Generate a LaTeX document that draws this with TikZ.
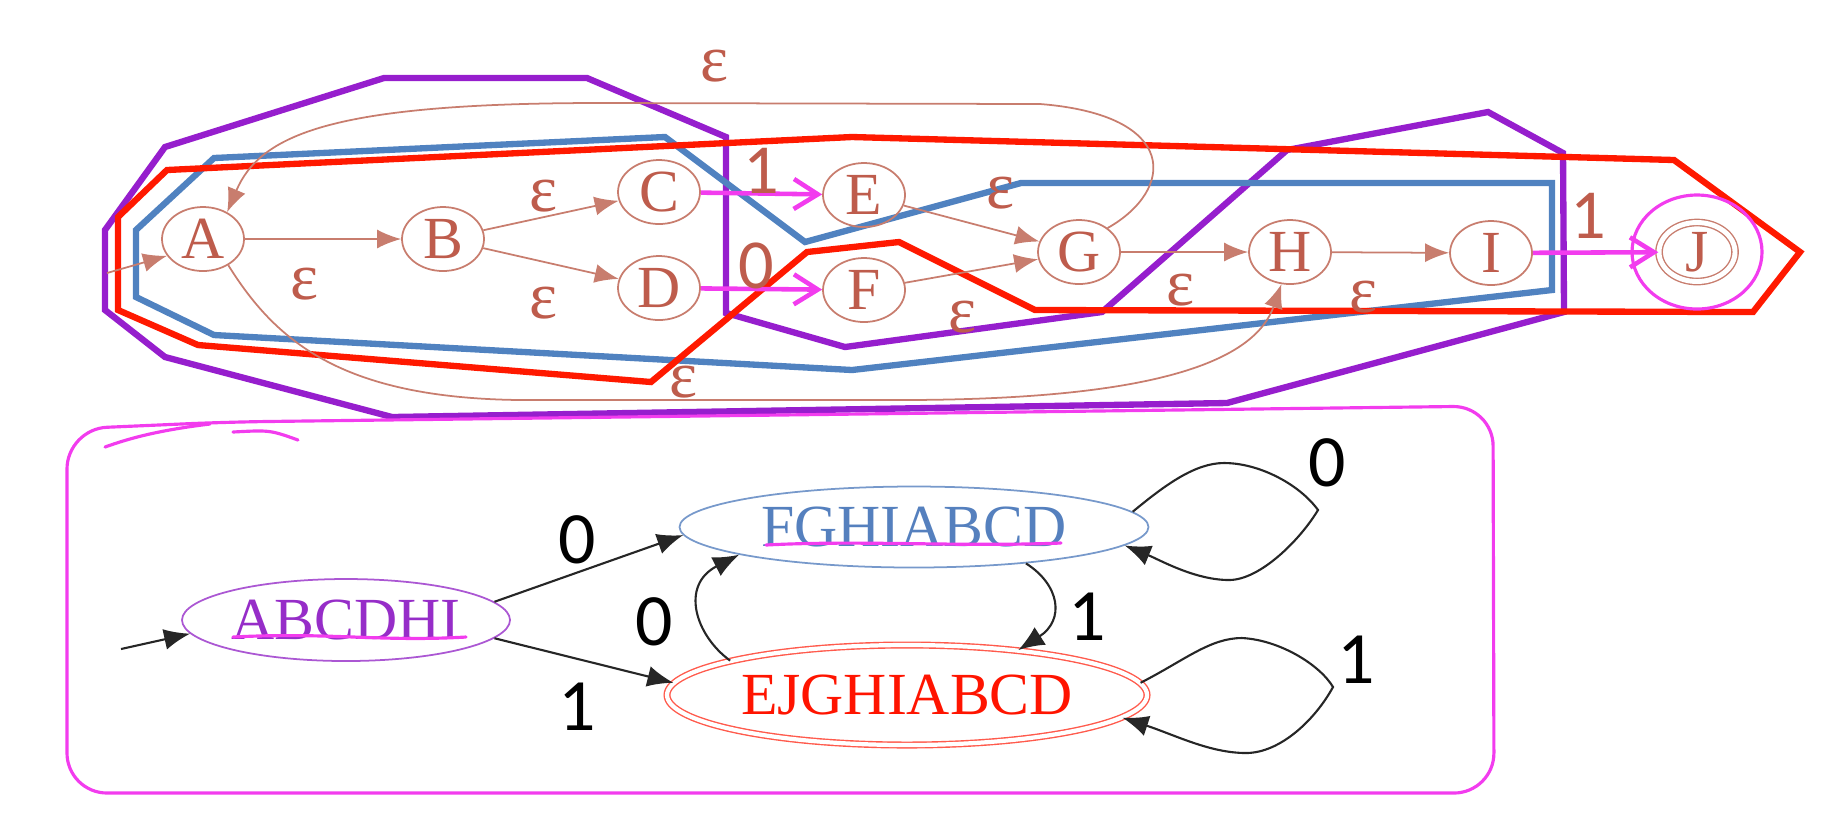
\documentclass[tikz,border=0pt]{standalone}
\usepackage{fontspec}
\setmainfont{Liberation Serif}
\newfontfamily\digitfont{Carlito}
\usetikzlibrary{arrows.meta,shapes.geometric}

\definecolor{nfabrown}{RGB}{190,92,76}
\definecolor{nfaline}{RGB}{200,125,110}
\definecolor{setpurple}{RGB}{150,30,205}
\definecolor{setblue}{RGB}{80,130,192}
\definecolor{setred}{RGB}{255,25,0}
\definecolor{pen}{RGB}{242,60,238}
\definecolor{dfapurple}{RGB}{150,45,200}
\definecolor{dfablue}{RGB}{85,128,190}
\definecolor{dfared}{RGB}{255,20,0}

\begin{document}
\begin{tikzpicture}[every node/.style={font=\fontsize{17}{20}\selectfont},
  nst/.style={ellipse, draw=nfaline, line width=0.5pt, text=nfabrown, minimum width=8.2mm, minimum height=6.4mm, inner sep=0pt},
  nacc/.style={nst, double, double distance=1.4pt, line width=0.4pt, minimum width=7.6mm, minimum height=5.9mm},
  nedge/.style={draw=nfaline, line width=0.5pt, -{Latex[length=2.4mm,width=1.9mm]}},
  eps/.style={text=nfabrown, font=\fontsize{19}{20}\selectfont},
  sym/.style={text=nfabrown, font=\digitfont\fontsize{20}{20}\selectfont},
  penline/.style={draw=pen, line width=0.9pt, line cap=round},
  penarrow/.style={draw=pen, line width=1.3pt, -{Straight Barb[length=2.4mm,width=3mm]}},
  zone/.style={line width=1.8pt},
  dst/.style={ellipse, line width=0.5pt, inner sep=0pt},
  dedge/.style={draw=black!85, line width=0.6pt, -{Latex[length=2.6mm,width=2.1mm]}},
  dsym/.style={font=\digitfont\fontsize{21}{22}\selectfont}]
\useasboundingbox (0,0) rectangle (18.34,-8.30);

% subset outlines
\draw[zone, setpurple] (3.84,-0.78) -- (5.87,-0.78) -- (7.26,-1.37) -- (7.26,-3.13) -- (8.45,-3.47) -- (11.02,-3.12) -- (12.87,-1.50) -- (14.88,-1.12) -- (15.63,-1.53) -- (15.64,-3.12) -- (12.27,-4.03) -- (3.92,-4.17) -- (1.65,-3.57) -- (1.05,-3.10) -- (1.05,-2.30) -- (1.65,-1.47) -- cycle;
\draw[zone, setblue] (2.14,-1.58) -- (6.65,-1.37) -- (8.05,-2.42) -- (10.21,-1.83) -- (15.52,-1.83) -- (15.52,-2.90) -- (8.52,-3.70) -- (2.14,-3.35) -- (1.36,-2.97) -- (1.36,-2.30) -- cycle;
\draw[zone, setred] (1.67,-1.70) -- (8.52,-1.37) -- (16.74,-1.60) -- (18.00,-2.52) -- (17.53,-3.12) -- (10.35,-3.10) -- (8.99,-2.42) -- (8.07,-2.52) -- (6.51,-3.82) -- (1.98,-3.45) -- (1.18,-3.10) -- (1.18,-2.17) -- cycle;

% NFA
\node[nst] (A) at (2.03,-2.39) {A};
\node[nst] (B) at (4.43,-2.39) {B};
\node[nst] (C) at (6.59,-1.92) {C};
\node[nst] (D) at (6.59,-2.88) {D};
\node[nst] (E) at (8.64,-1.95) {E};
\node[nst] (F) at (8.64,-2.90) {F};
\node[nst] (G) at (10.79,-2.52) {G};
\node[nst] (H) at (12.90,-2.52) {H};
\node[nst] (I) at (14.91,-2.53) {I};
\node[nacc] (J) at (16.97,-2.52) {J};
\coordinate (nin) at (1.07,-2.73);

\draw[nedge] (nin) -- (A.205);
\draw[nedge] (A) -- (B);
\draw[nedge] (B) -- (C);
\draw[nedge] (B) -- (D);
\draw[nedge] (E) -- (G);
\draw[nedge] (F) -- (G);
\draw[nedge] (G) -- (H);
\draw[nedge] (H) -- (I);
\draw[nedge] (G.40) .. controls (11.75,-1.9) and (11.8,-1.15) .. (10.4,-1.04) -- (6.0,-1.03) .. controls (3.3,-1.03) and (2.6,-1.35) .. (A.48);
\draw[nedge] (A.-46) .. controls (2.75,-3.4) and (3.4,-3.98) .. (5.2,-4.0) -- (9.0,-4.0) .. controls (11.6,-4.0) and (12.55,-3.6) .. (H.255);
\draw[penarrow] (C) -- (E);
\draw[penarrow] (D) -- (F);
\draw[penarrow] (I) -- (J);
\draw[penline] (J) ellipse [x radius=0.65, y radius=0.57];

\node[eps] (eAB) at (3.05,-2.84) {ε};
\node[eps] (eBC) at (5.44,-1.96) {ε};
\node[eps] (eBD) at (5.44,-3.03) {ε};
\node[eps] (eEG) at (10.01,-1.93) {ε};
\node[eps] (eFG) at (9.63,-3.17) {ε};
\node[eps] (eGH) at (11.80,-2.90) {ε};
\node[eps] (eHI) at (13.63,-2.97) {ε};
\node[eps] (eGA) at (7.15,-0.66) {ε};
\node[eps] (eAH) at (6.84,-3.82) {ε};
\node[sym] (oCE) at (7.61,-1.71) {1};
\node[sym] (oDF) at (7.56,-2.66) {0};
\node[sym] (oIJ) at (15.88,-2.16) {1};

% DFA
\draw[penline, rounded corners=0.4cm] (0.67,-4.29) -- (2.27,-4.22) -- (14.93,-4.06) -- (14.94,-7.93) -- (0.67,-7.93) -- cycle;
\draw[penline] (1.05,-4.47) .. controls (1.3,-4.38) and (1.6,-4.30) .. (2.1,-4.24);
\draw[penline] (2.33,-4.32) .. controls (2.7,-4.30) .. (2.98,-4.40);

\node[dst, draw=dfapurple!80, text=dfapurple, minimum width=3.28cm, minimum height=0.82cm] (q0) at (3.46,-6.20) {ABCDHI};
\node[dst, draw=dfablue!80, text=dfablue, minimum width=4.69cm, minimum height=0.81cm] (q1) at (9.14,-5.27) {FGHIABCD};
\node[dst, draw=dfared!70, text=dfared, double, double distance=1.2pt, line width=0.4pt, minimum width=4.80cm, minimum height=1.00cm] (q2) at (9.07,-6.95) {EJGHIABCD};
\draw[penline] (2.33,-6.37) .. controls (3.3,-6.32) and (3.8,-6.42) .. (4.66,-6.37);
\draw[penline] (7.66,-5.45) .. controls (8.6,-5.40) and (9.6,-5.47) .. (10.61,-5.43);
\coordinate (din) at (1.21,-6.49);

\draw[dedge] (din) -- (q0.185);
\draw[dedge] (q0.7) -- (q1.182);
\draw[dedge] (q0.-7) -- (q2.177);
\draw[dedge] (q2.169) .. controls (6.95,-6.35) and (6.8,-5.85) .. (q1.189);
\draw[dedge] (q1.-18) .. controls (10.6,-5.85) and (10.65,-6.2) .. (q2.22);
\draw[dedge] (q1.4.5) .. controls (11.65,-4.85) and (11.95,-4.63) .. (12.24,-4.63) .. controls (12.6,-4.63) and (13.0,-4.85) .. (13.18,-5.1) .. controls (13.0,-5.4) and (12.6,-5.8) .. (12.29,-5.8) .. controls (11.95,-5.8) and (11.6,-5.6) .. (q1.-5.8);
\draw[dedge] (q2.3) .. controls (11.85,-6.6) and (12.1,-6.38) .. (12.42,-6.38) .. controls (12.8,-6.4) and (13.2,-6.65) .. (13.33,-6.87) .. controls (13.15,-7.2) and (12.8,-7.53) .. (12.46,-7.53) .. controls (12.1,-7.53) and (11.75,-7.35) .. (q2.-6.5);

\node[dsym] (l01) at (5.77,-5.40) {0};
\node[dsym] (l02) at (5.77,-7.07) {1};
\node[dsym] (l21) at (6.54,-6.22) {0};
\node[dsym] (l12) at (10.87,-6.17) {1};
\node[dsym] (l11) at (13.27,-4.63) {0};
\node[dsym] (l22) at (13.56,-6.60) {1};
\end{tikzpicture}
\end{document}
